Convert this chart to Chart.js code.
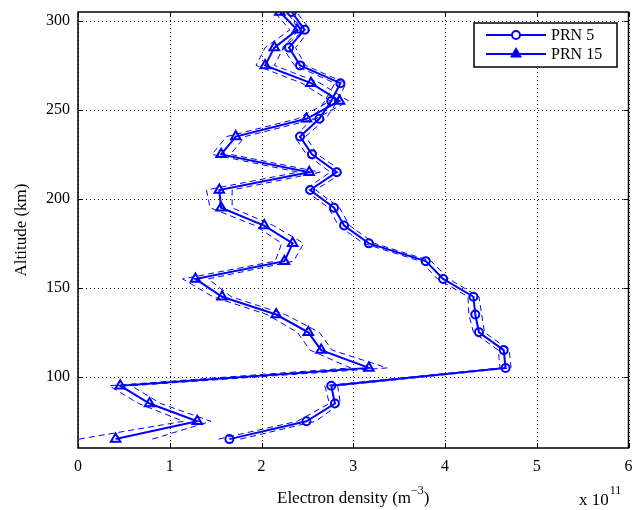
<!DOCTYPE html>
<html>
<head>
<meta charset="utf-8">
<script src="https://cdn.jsdelivr.net/npm/chart.js@4/dist/chart.umd.min.js"></script>
<style>
html, body { margin: 0; padding: 0; background: #fff; }
</style>
</head>
<body>
<canvas id="densityChart" width="636" height="510"></canvas>
<script>
// altitudes (km) and electron density (x 10^11 m^-3)
const altitudes = [65, 75, 85, 95, 105, 115, 125, 135, 145, 155, 165, 175, 185,
                   195, 205, 215, 225, 235, 245, 255, 265, 275, 285, 295, 305];
const prn5 = [1.65, 2.49, 2.80, 2.76, 4.66, 4.64, 4.37, 4.33, 4.31, 3.98, 3.79, 3.17, 2.90,
              2.79, 2.53, 2.82, 2.55, 2.42, 2.63, 2.76, 2.86, 2.42, 2.30, 2.47, 2.33];
const prn15 = [0.41, 1.30, 0.78, 0.46, 3.17, 2.65, 2.51, 2.16, 1.57, 1.28, 2.25, 2.34, 2.03,
               1.56, 1.54, 2.52, 1.56, 1.72, 2.49, 2.85, 2.54, 2.04, 2.14, 2.39, 2.20];
// half width of the dashed error envelopes
const prn5Err = [0.12, 0.10, 0.06, 0.07, 0.06, 0.06, 0.06, 0.07, 0.06, 0.06, 0.06, 0.06, 0.06,
                 0.06, 0.06, 0.07, 0.06, 0.06, 0.07, 0.07, 0.06, 0.06, 0.07, 0.06, 0.05];
const prn15Err = [0.40, 0.15, 0.12, 0.12, 0.20, 0.12, 0.12, 0.10, 0.10, 0.14, 0.10, 0.12, 0.10,
                  0.12, 0.14, 0.12, 0.10, 0.10, 0.10, 0.10, 0.10, 0.10, 0.10, 0.08, 0.06];
const xTicks = [0, 1, 2, 3, 4, 5, 6];
const yTicks = [100, 150, 200, 250, 300];

const BLUE = '#0000ff';
const SERIF = '"Liberation Serif", "Times New Roman", serif';

function toPoints(vals, offs, sign) {
    return vals.map((v, i) => ({ x: v + (offs ? sign * offs[i] : 0), y: altitudes[i] }));
}

function solidSet(label, vals, style, radius) {
    return {
        label: label,
        data: toPoints(vals),
        borderColor: BLUE,
        borderWidth: 2,
        pointStyle: style,
        pointRadius: radius,
        pointBorderWidth: 2,
        pointBorderColor: BLUE,
        pointBackgroundColor: 'rgba(0,0,0,0)',
        tension: 0
    };
}

function dashedSet(vals, errs, sign) {
    return {
        label: '',
        data: toPoints(vals, errs, sign),
        borderColor: BLUE,
        borderWidth: 1,
        borderDash: [6, 4],
        pointRadius: 0,
        tension: 0
    };
}

// grid, frame, inward ticks, legend and axis titles, matlab style
const frame = {
    id: 'frame',
    beforeDatasetsDraw(chart) {
        const { ctx, chartArea: a, scales: { x, y } } = chart;
        ctx.save();
        ctx.strokeStyle = '#000';
        ctx.lineWidth = 1;
        ctx.setLineDash([1, 3]);
        xTicks.forEach(t => {
            const px = Math.round(x.getPixelForValue(t)) + 0.5;
            ctx.beginPath(); ctx.moveTo(px, a.top); ctx.lineTo(px, a.bottom); ctx.stroke();
        });
        yTicks.forEach(t => {
            const py = Math.round(y.getPixelForValue(t)) + 0.5;
            ctx.beginPath(); ctx.moveTo(a.left, py); ctx.lineTo(a.right, py); ctx.stroke();
        });
        ctx.restore();
    },
    afterDraw(chart) {
        const { ctx, chartArea: a, scales: { x, y } } = chart;
        ctx.save();
        ctx.strokeStyle = '#000';
        ctx.lineWidth = 1.5;
        ctx.strokeRect(a.left, a.top, a.right - a.left, a.bottom - a.top);
        ctx.lineWidth = 1;
        xTicks.forEach(t => {
            const px = Math.round(x.getPixelForValue(t)) + 0.5;
            ctx.beginPath();
            ctx.moveTo(px, a.bottom); ctx.lineTo(px, a.bottom - 5);
            ctx.moveTo(px, a.top); ctx.lineTo(px, a.top + 5);
            ctx.stroke();
        });
        yTicks.forEach(t => {
            const py = Math.round(y.getPixelForValue(t)) + 0.5;
            ctx.beginPath();
            ctx.moveTo(a.left, py); ctx.lineTo(a.left + 5, py);
            ctx.moveTo(a.right, py); ctx.lineTo(a.right - 5, py);
            ctx.stroke();
        });

        // legend
        ctx.fillStyle = '#fff';
        ctx.fillRect(474, 23, 143, 44);
        ctx.lineWidth = 1.5;
        ctx.strokeRect(474, 23, 143, 44);
        const rows = [['PRN 5', 'circle', 35], ['PRN 15', 'triangle', 54]];
        rows.forEach(([txt, style, ry]) => {
            ctx.strokeStyle = BLUE;
            ctx.lineWidth = 2;
            ctx.beginPath(); ctx.moveTo(486, ry); ctx.lineTo(546, ry); ctx.stroke();
            ctx.fillStyle = style === 'triangle' ? BLUE : '#fff';
            Chart.helpers.drawPoint(ctx, { pointStyle: style, radius: style === 'triangle' ? 5 : 4, borderWidth: 2 }, 516, ry);
            ctx.fillStyle = '#000';
            ctx.font = '16px ' + SERIF;
            ctx.textAlign = 'left';
            ctx.textBaseline = 'middle';
            ctx.fillText(txt, 551, ry + 1);
        });

        // axis titles
        ctx.fillStyle = '#000';
        ctx.font = '17px ' + SERIF;
        ctx.textBaseline = 'alphabetic';
        ctx.textAlign = 'left';
        const main = 'Electron density (m';
        const sup = '\u22123';
        const wMain = ctx.measureText(main).width;
        ctx.font = '12px ' + SERIF;
        const wSup = ctx.measureText(sup).width;
        ctx.font = '17px ' + SERIF;
        const wEnd = ctx.measureText(')').width;
        let sx = (a.left + a.right) / 2 - (wMain + wSup + wEnd) / 2;
        ctx.fillText(main, sx, 503);
        ctx.font = '12px ' + SERIF;
        ctx.fillText(sup, sx + wMain, 494);
        ctx.font = '17px ' + SERIF;
        ctx.fillText(')', sx + wMain + wSup, 503);

        ctx.fillText('x 10', 579, 505);
        const w10 = ctx.measureText('x 10').width;
        ctx.font = '12px ' + SERIF;
        ctx.fillText('11', 579 + w10 + 1, 494);

        ctx.font = '17px ' + SERIF;
        ctx.translate(22, (a.top + a.bottom) / 2);
        ctx.rotate(-Math.PI / 2);
        ctx.textAlign = 'center';
        ctx.textBaseline = 'middle';
        ctx.fillText('Altitude (km)', 0, 0);
        ctx.restore();
    }
};

const config = {
    type: 'line',
    data: {
        datasets: [
            solidSet('PRN 5', prn5, 'circle', 4),
            dashedSet(prn5, prn5Err, -1),
            dashedSet(prn5, prn5Err, 1),
            solidSet('PRN 15', prn15, 'triangle', 5.5),
            dashedSet(prn15, prn15Err, -1),
            dashedSet(prn15, prn15Err, 1)
        ]
    },
    options: {
        responsive: false,
        animation: false,
        layout: { padding: { left: 0, right: 7, top: 12, bottom: 0 } },
        plugins: { legend: { display: false }, tooltip: { enabled: false } },
        scales: {
            x: {
                type: 'linear',
                min: 0,
                max: 6,
                afterBuildTicks: s => { s.ticks = xTicks.map(v => ({ value: v })); },
                afterFit: s => { s.height = 62; s.paddingLeft = 0; s.paddingRight = 0; },
                grid: { display: false, drawTicks: false },
                border: { display: false },
                ticks: { color: '#000', padding: 9, font: { family: SERIF, size: 16 } }
            },
            y: {
                type: 'linear',
                min: 60,
                max: 305,
                afterBuildTicks: s => { s.ticks = yTicks.map(v => ({ value: v })); },
                afterFit: s => { s.width = 78; s.paddingTop = 0; s.paddingBottom = 0; },
                grid: { display: false, drawTicks: false },
                border: { display: false },
                ticks: { color: '#000', padding: 8, font: { family: SERIF, size: 16 } }
            }
        }
    },
    plugins: [frame]
};

new Chart(document.getElementById('densityChart'), config);
</script>
</body>
</html>
